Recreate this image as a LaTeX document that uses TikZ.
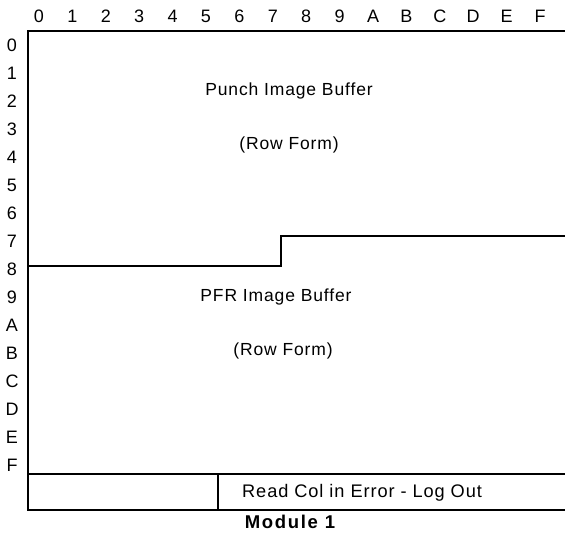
\documentclass[tikz,border=0pt]{standalone}
\usepackage{fontspec}
\setmainfont{Liberation Sans}
\newfontfamily\lblfont[LetterSpace=5]{Liberation Sans}
\newfontfamily\ttlfont[LetterSpace=9]{Liberation Sans}
\begin{document}
\begin{tikzpicture}[x=1pt,y=-1pt,
  lbl/.style={font=\lblfont\fontsize{18}{18}\selectfont, inner sep=0pt},
  txt/.style={font=\lblfont\fontsize{17.5}{17.5}\selectfont, inner sep=0pt},
  ttl/.style={font=\ttlfont\fontsize{18.5}{18.5}\selectfont\bfseries, inner sep=0pt},
  edge/.style={line width=1.2pt}]
\useasboundingbox (0,0) rectangle (565,535);
% column index labels
\foreach \c [count=\i from 0] in {0,1,2,3,4,5,6,7,8,9,A,B,C,D,E,F}
  \node[lbl] (col\c) at ({39+\i*33.4},16) {\c};
% row index labels
\foreach \r [count=\i from 0] in {0,1,2,3,4,5,6,7,8,9,A,B,C,D,E,F}
  \node[lbl] (row\r) at (12,{45+\i*28.0}) {\r};
% memory map outline
\coordinate (tl) at (28,31);
\coordinate (tr) at (565,31);
\coordinate (bl) at (28,510);
\coordinate (br) at (565,510);
\draw[edge] (tr) -- (tl) -- (bl) -- (br);
% boundary between punch and PFR buffers
\coordinate (s1) at (28,266);
\coordinate (s2) at (281,266);
\coordinate (s3) at (281,236);
\coordinate (s4) at (565,236);
\draw[edge] (s1) -- (s2) -- (s3) -- (s4);
% error log row
\coordinate (f1) at (28,474);
\coordinate (f2) at (565,474);
\coordinate (d1) at (218,474);
\coordinate (d2) at (218,510);
\draw[edge] (f1) -- (f2);
\draw[edge] (d1) -- (d2);
% region texts
\node[txt] (punch) at (289,91) {Punch Image Buffer};
\node[txt] (punchform) at (289,145) {(Row Form)};
\node[txt] (pfr) at (276,297) {PFR Image Buffer};
\node[txt] (pfrform) at (283,351) {(Row Form)};
\node[txt, font=\lblfont\fontsize{18.2}{18.2}\selectfont, anchor=west] (errlog) at (242,493) {Read Col in Error - Log Out};
\node[ttl] (module) at (290,522) {Module 1};
\end{tikzpicture}
\end{document}
